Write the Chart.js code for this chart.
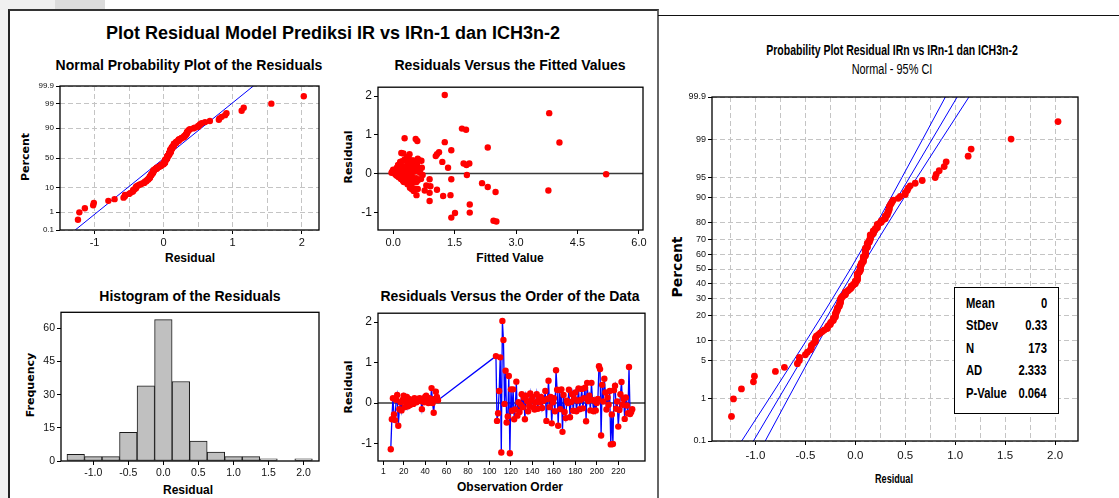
<!DOCTYPE html>
<html><head><meta charset="utf-8">
<script src="https://cdn.jsdelivr.net/npm/chart.js@4.4.1/dist/chart.umd.min.js"></script>
<style>
html,body{margin:0;padding:0;background:#fff;}
body{width:1119px;height:498px;position:relative;overflow:hidden;font-family:"Liberation Sans",Arial,sans-serif;color:#000;}
.bx{position:absolute;}
.t{position:absolute;white-space:nowrap;line-height:1;transform:translate(-50%,-50%);}
.b{font-weight:bold;}
.v{font-family:"DejaVu Sans",Verdana,sans-serif;font-weight:bold;transform:translate(-50%,-50%) rotate(-90deg);}
canvas{position:absolute;}
.row{position:absolute;left:11px;right:11px;height:18px;line-height:18px;font-weight:bold;font-size:15px;}
.row span{position:absolute;top:0;white-space:nowrap;}
.row .l{left:0;transform:scaleX(0.75);transform-origin:left center;}
.row .r{right:0;transform:scaleX(0.75);transform-origin:right center;}
</style></head><body>
<div class="bx" style="left:0;top:0;width:8px;height:498px;background:#f0f0f0"></div>
<div class="bx" style="left:0;top:0;width:55px;height:9px;background:#f0f0f0"></div>
<div class="bx" style="left:55px;top:0;width:50px;height:9px;background:#dcdcdc"></div>
<div class="bx" style="left:8px;top:9px;width:647px;height:489px;border-top:2px solid #333;border-left:2px solid #222;border-right:2px solid #666"></div>
<div class="bx" style="left:658px;top:15px;width:461px;height:0;border-top:1px solid #111"></div>

<div class="t b" style="left:333px;top:33px;font-size:18px">Plot Residual Model Prediksi IR vs IRn-1 dan ICH3n-2</div>
<div class="t b" style="left:189px;top:65px;font-size:14px">Normal Probability Plot of the Residuals</div>
<div class="t b" style="left:510px;top:65px;font-size:14px">Residuals Versus the Fitted Values</div>
<div class="t b" style="left:190px;top:296px;font-size:14px">Histogram of the Residuals</div>
<div class="t b" style="left:510px;top:296px;font-size:14px">Residuals Versus the Order of the Data</div>
<div class="t b" style="left:190px;top:258px;font-size:12px">Residual</div>
<div class="t b" style="left:510px;top:258px;font-size:12px">Fitted Value</div>
<div class="t b" style="left:188px;top:490px;font-size:12px">Residual</div>
<div class="t b" style="left:510px;top:487px;font-size:12px">Observation Order</div>
<div class="t v" style="left:25px;top:157px;font-size:11px">Percent</div>
<div class="t v" style="left:348px;top:157px;font-size:11px">Residual</div>
<div class="t v" style="left:30px;top:385px;font-size:11px">Frequency</div>
<div class="t v" style="left:348px;top:387px;font-size:11px">Residual</div>

<div class="t b" style="left:892px;top:49px;font-size:15px;transform:translate(-50%,-50%) scaleX(0.7)">Probability Plot Residual IRn vs IRn-1 dan ICH3n-2</div>
<div class="t" style="left:892px;top:69px;font-size:14px;transform:translate(-50%,-50%) scaleX(0.78)">Normal - 95% CI</div>
<div class="t v" style="left:677px;top:267px;font-size:14px">Percent</div>
<div class="t b" style="left:894px;top:478px;font-size:13px;transform:translate(-50%,-50%) scaleX(0.7)">Residual</div>

<canvas id="c1" width="315" height="177" style="left:20px;top:78px"></canvas>
<canvas id="c2" width="315" height="177" style="left:340px;top:78px"></canvas>
<canvas id="c3" width="315" height="182" style="left:20px;top:304px"></canvas>
<canvas id="c4" width="315" height="182" style="left:340px;top:304px"></canvas>
<canvas id="c5" width="410" height="377" style="left:680px;top:89px"></canvas>

<div id="stat" class="bx" style="left:954px;top:287px;width:103px;height:125px;border:1px solid #000;background:#fff"></div>

<script>
// ---------------- DATA ----------------
const obsSegments = [[8, 52], [106, 233]];
const residuals = [
 -1.14,-0.40,0.12,-0.28,-0.42,0.08,0.20,-0.56,-0.15,0.02,
 -0.18,0.08,0.18,-0.10,0.02,0.15,-0.08,0.10,-0.05,0.05,
 0.08,-0.02,0.12,0.10,0.02,0.10,0.08,0.12,0.05,-0.15,
 0.10,0.02,0.15,0.18,0.05,0.00,0.12,0.02,0.37,0.00,
 -0.24,0.10,0.28,0.15,0.07,
 1.16,-0.44,-0.25,0.30,1.13,-1.22,2.03,1.56,-0.02,0.80,
 -0.48,-0.33,0.67,-1.24,0.34,-0.19,0.34,-0.40,-0.16,0.53,
 -0.31,0.02,-0.22,-0.04,0.22,-0.10,0.14,-0.40,0.18,0.05,
 -0.20,-0.07,0.24,0.06,0.15,-0.10,-0.16,0.02,0.22,-0.14,
 0.10,0.02,0.15,-0.12,0.05,0.08,0.30,-0.44,0.10,0.55,
 -0.10,0.15,-0.50,0.02,0.12,-0.20,0.81,0.33,-0.56,0.32,
 -0.15,0.34,-0.71,0.20,-0.22,-0.37,0.06,0.00,0.33,-0.35,
 0.03,0.22,-0.19,0.10,0.26,-0.20,0.06,0.36,-0.15,0.08,
 0.35,-0.13,0.12,0.38,-0.45,0.50,0.05,0.18,-0.18,0.50,
 0.08,-0.20,0.05,-0.18,0.00,0.10,0.91,0.84,-0.80,0.45,
 0.04,0.60,0.26,-0.16,0.14,-0.04,0.30,-1.02,-0.28,-1.01,
 0.32,0.43,-0.14,0.04,-0.58,-0.17,0.22,0.52,-0.04,0.10,
 -0.39,0.14,-0.06,-0.25,0.89,-0.27,-0.22,-0.15
];
const fittedValues = [
 1.42,0.45,0.08,0.35,1.07,0.05,0.12,0.57,0.22,-0.04,
 0.25,0.10,0.15,0.14,0.06,0.09,0.12,0.00,0.08,-0.02,
 0.07,0.05,0.11,0.13,0.04,0.06,0.16,0.18,0.20,0.28,
 0.22,0.10,0.24,0.30,0.14,0.09,0.26,0.18,0.33,0.21,
 0.38,0.31,0.36,0.42,0.27,
 1.68,3.79,2.17,1.20,1.78,2.45,1.26,3.81,5.20,4.06,
 2.50,0.91,2.31,2.52,0.62,0.45,0.48,0.52,0.30,0.20,
 0.81,0.35,0.40,0.18,0.55,0.28,0.66,0.60,0.44,0.50,
 0.33,0.38,0.58,0.62,0.70,0.47,0.54,0.66,0.12,0.19,
 0.25,0.44,1.34,0.56,0.31,0.48,0.40,0.77,0.58,1.12,
 0.16,0.52,0.89,0.27,0.46,0.42,1.26,0.69,1.40,0.58,
 1.42,0.64,0.89,0.36,0.26,0.41,0.20,0.34,0.50,2.31,
 0.15,1.79,0.24,0.37,1.72,0.31,0.55,0.28,0.89,0.64,
 0.41,0.29,0.23,0.60,0.50,0.40,0.13,0.27,0.35,1.07,
 0.21,0.49,0.38,0.52,0.45,0.32,0.28,0.59,1.87,1.04,
 0.11,1.42,1.86,0.37,0.30,1.80,0.17,1.51,0.43,1.87,
 0.22,0.34,0.68,0.42,1.22,0.61,0.47,0.25,0.72,0.19,
 0.53,0.35,0.26,0.46,0.55,0.39,0.57,0.33
];
const histBinCenters = [-1.25,-1.0,-0.75,-0.5,-0.25,0.0,0.25,0.5,0.75,1.0,1.25,1.5,1.75,2.0];
const histCounts     = [3,2,2,13,34,64,36,9,4,2,2,1,0,1];

const nppPctTicks  = [0.1,1,10,50,90,99,99.9];
const nppPctLabels = ['0.1','1','10','50','90','99','99.9'];
const nppXTicks    = [-1,-0.5,0,0.5,1,1.5,2];
const nppLineX     = [-1.28, 1.30];
const nppLinePct   = [0.1, 99.9];

const fitXTicks   = [0,1.5,3,4.5,6];
const residYTicks = [-1,0,1,2];
const orderXTicks = [1,20,40,60,80,100,120,140,160,180,200,220];
const histXTicks  = [-1,-0.5,0,0.5,1,1.5,2];
const histYTicks  = [0,15,30,45,60];

const probPctTicks = [0.1,1,5,10,20,30,40,50,60,70,80,90,95,99,99.9];
const probXGrid    = [-1.25,-1,-0.75,-0.5,-0.25,0,0.25,0.5,0.75,1,1.25,1.5,1.75,2];
const probFitX     = [-1.02, 1.02];
const probFitPct   = [0.1, 99.9];
const ciPct   = [0.1,1,5,10,20,30,50,70,80,90,95,99,99.9];
const ciLower = [-1.138,-0.862,-0.618,-0.489,-0.335,-0.226,-0.049,0.121,0.221,0.357,0.467,0.673,0.902];
const ciUpper = [-0.902,-0.673,-0.467,-0.357,-0.221,-0.121,0.049,0.226,0.335,0.489,0.618,0.862,1.138];
const statLabels = ['Mean','StDev','N','AD','P-Value'];
const statValues = ['0','0.33','173','2.333','0.064'];

// ---------------- HELPERS ----------------
const TICKFONT = '"Liberation Sans",Arial,sans-serif';
Chart.defaults.font.family = TICKFONT;
Chart.defaults.color = '#111';

function normInv(p){
  const a=[-3.969683028665376e+01,2.209460984245205e+02,-2.759285104469687e+02,1.383577518672690e+02,-3.066479806614716e+01,2.506628277459239e+00];
  const b=[-5.447609879822406e+01,1.615858368580409e+02,-1.556989798598866e+02,6.680131188771972e+01,-1.328068155288572e+01];
  const c=[-7.784894002430293e-03,-3.223964580411365e-01,-2.400758277161838e+00,-2.549732539343734e+00,4.374664141464968e+00,2.938163982698783e+00];
  const d=[7.784695709041462e-03,3.224671290700398e-01,2.445134137142996e+00,3.754408661907416e+00];
  const pl=0.02425; let q,r;
  if(p<pl){q=Math.sqrt(-2*Math.log(p));return (((((c[0]*q+c[1])*q+c[2])*q+c[3])*q+c[4])*q+c[5])/((((d[0]*q+d[1])*q+d[2])*q+d[3])*q+1);}
  if(p<=1-pl){q=p-0.5;r=q*q;return (((((a[0]*r+a[1])*r+a[2])*r+a[3])*r+a[4])*r+a[5])*q/(((((b[0]*r+b[1])*r+b[2])*r+b[3])*r+b[4])*r+1);}
  q=Math.sqrt(-2*Math.log(1-p));return -(((((c[0]*q+c[1])*q+c[2])*q+c[3])*q+c[4])*q+c[5])/((((d[0]*q+d[1])*q+d[2])*q+d[3])*q+1);
}
const zOf = pct => normInv(pct/100);
const Z_MIN = zOf(0.1), Z_MAX = zOf(99.9);

const obsNumbers = [];
obsSegments.forEach(([s,e]) => { for (let i=s;i<=e;i++) obsNumbers.push(i); });
const sortedRes = residuals.slice().sort((p,q)=>p-q);
const nRes = sortedRes.length;
const probPoints = sortedRes.map((v,i) => ({x:v, y:zOf((i+1-0.3)/(nRes+0.4)*100)}));

const framePlugin = {
  id:'frame',
  afterDraw(chart){
    const {ctx, chartArea:a} = chart;
    ctx.save(); ctx.strokeStyle='#000'; ctx.lineWidth=1.3;
    ctx.strokeRect(a.left, a.top, a.right-a.left, a.bottom-a.top);
    ctx.restore();
  }
};
const hlinePlugin = {
  id:'hline',
  beforeDatasetsDraw(chart, args, opts){
    if (opts.value === undefined) return;
    const {ctx, chartArea:a} = chart; const y = chart.scales.y.getPixelForValue(opts.value);
    ctx.save(); ctx.strokeStyle='#3a3a3a'; ctx.lineWidth=1.5;
    ctx.beginPath(); ctx.moveTo(a.left,y); ctx.lineTo(a.right,y); ctx.stroke(); ctx.restore();
  }
};
Chart.register(framePlugin, hlinePlugin);

function axis(o){
  return {
    type:'linear', min:o.min, max:o.max, offset:false,
    afterBuildTicks: s => { s.ticks = o.ticks.map(v => ({value:v})); },
    afterFit: s => { if (o.x) s.height = o.size; else s.width = o.size; },
    ticks:{autoSkip:false, maxRotation:0, minRotation:0, padding:o.pad===undefined?2:o.pad, color:'#111',
      font:{family:TICKFONT, size:o.font}, callback:o.label},
    grid:{display:true, drawOnChartArea:!!o.grid, color:'#c4c4c4', lineWidth:1, tickLength:4, offset:false,
      tickColor: o.tickColor || '#000', drawTicks:true},
    border:{display:false, dash:o.grid?[5,3]:[]}
  };
}
function baseOpts(padTop, padRight, scales, plugins){
  return {responsive:false, animation:false, devicePixelRatio:1, events:[],
    layout:{padding:{top:padTop, right:padRight, left:0, bottom:0}},
    plugins:Object.assign({legend:{display:false}, tooltip:{enabled:false}}, plugins||{}),
    scales};
}
const RED='#ff0000', BLUE='#0000ff';
const isLabeledHalf = v => Math.abs(v*2-Math.round(v*2))<1e-9;

// ---------- 1. Normal probability plot ----------
new Chart(document.getElementById('c1'), {
  type:'scatter',
  data:{datasets:[
    {data:probPoints, pointRadius:3.2, pointBackgroundColor:RED, pointBorderColor:RED, pointBorderWidth:0},
    {data:nppLineX.map((x,i)=>({x, y:zOf(nppLinePct[i])})), showLine:true, pointRadius:0, borderColor:BLUE, borderWidth:1}
  ]},
  options:baseOpts(8,16,{
    x:axis({x:true,min:-1.5,max:2.25,ticks:nppXTicks,size:25,font:11,grid:true,
      label:v=>Number.isInteger(v)?String(v):'',
      tickColor:c=>Number.isInteger(c.tick&&c.tick.value)?'#000':'rgba(0,0,0,0)'}),
    y:axis({min:Z_MIN,max:Z_MAX,ticks:nppPctTicks.map(zOf),size:40,font:8,grid:true,
      label:(v,i)=>nppPctLabels[i]})
  })
});

// ---------- 2. Residuals vs fitted ----------
new Chart(document.getElementById('c2'), {
  type:'scatter',
  data:{datasets:[
    {data:fittedValues.map((f,i)=>({x:f, y:residuals[i]})), pointRadius:3.2, pointBackgroundColor:RED, pointBorderColor:RED, pointBorderWidth:0}
  ]},
  options:baseOpts(8,12,{
    x:axis({x:true,min:-0.37,max:6.1,ticks:fitXTicks,size:25,font:11,label:v=>v.toFixed(1)}),
    y:axis({min:-1.46,max:2.23,ticks:residYTicks,size:38,font:12,label:v=>String(v)})
  },{hline:{value:0}})
});

// ---------- 3. Histogram ----------
new Chart(document.getElementById('c3'), {
  type:'bar',
  data:{datasets:[
    {data:histBinCenters.map((x,i)=>({x, y:histCounts[i]})), backgroundColor:'#c0c0c0', borderColor:'#1a1a1a',
     borderWidth:1, borderSkipped:false, barPercentage:1, categoryPercentage:1}
  ]},
  options:baseOpts(8,16,{
    x:axis({x:true,min:-1.46,max:2.22,ticks:histXTicks,size:25,font:10.5,label:v=>v.toFixed(1)}),
    y:axis({min:0,max:67.3,ticks:histYTicks,size:41,font:10.5,label:v=>String(v)})
  })
});

// ---------- 4. Residuals vs order ----------
new Chart(document.getElementById('c4'), {
  type:'scatter',
  data:{datasets:[
    {data:obsNumbers.map((o,i)=>({x:o, y:residuals[i]})), showLine:true, borderColor:BLUE, borderWidth:1.3,
     pointRadius:3.2, pointBackgroundColor:RED, pointBorderColor:RED, pointBorderWidth:0}
  ]},
  options:baseOpts(8,10,{
    x:axis({x:true,min:-3.9,max:244.9,ticks:orderXTicks,size:25,font:8.5,label:v=>String(v)}),
    y:axis({min:-1.43,max:2.22,ticks:residYTicks,size:38,font:12,label:v=>String(v)})
  },{hline:{value:0}})
});

// ---------- 5. Probability plot with CI ----------
new Chart(document.getElementById('c5'), {
  type:'scatter',
  data:{datasets:[
    {data:probPoints, pointRadius:3.4, pointBackgroundColor:RED, pointBorderColor:RED, pointBorderWidth:0},
    {data:probFitX.map((x,i)=>({x, y:zOf(probFitPct[i])})), showLine:true, pointRadius:0, borderColor:BLUE, borderWidth:1},
    {data:ciLower.map((x,i)=>({x, y:zOf(ciPct[i])})), showLine:true, pointRadius:0, borderColor:BLUE, borderWidth:1},
    {data:ciUpper.map((x,i)=>({x, y:zOf(ciPct[i])})), showLine:true, pointRadius:0, borderColor:BLUE, borderWidth:1}
  ]},
  options:baseOpts(8,12,{
    x:axis({x:true,min:-1.435,max:2.23,ticks:probXGrid,size:25,font:11.5,grid:true,pad:4,
      label:v=>isLabeledHalf(v)?v.toFixed(1):'',
      tickColor:c=>(c.tick&&isLabeledHalf(c.tick.value))?'#000':'rgba(0,0,0,0)'}),
    y:axis({min:Z_MIN,max:Z_MAX,ticks:probPctTicks.map(zOf),size:32,font:9,grid:true,
      label:(v,i)=>String(probPctTicks[i])})
  })
});

// ---------- stats box ----------
const stat = document.getElementById('stat');
statLabels.forEach((lab,i)=>{
  const r = document.createElement('div'); r.className='row'; r.style.top=(6+i*22.4)+'px';
  r.innerHTML = '<span class="l">'+lab+'</span><span class="r">'+statValues[i]+'</span>';
  stat.appendChild(r);
});
</script>
</body></html>
